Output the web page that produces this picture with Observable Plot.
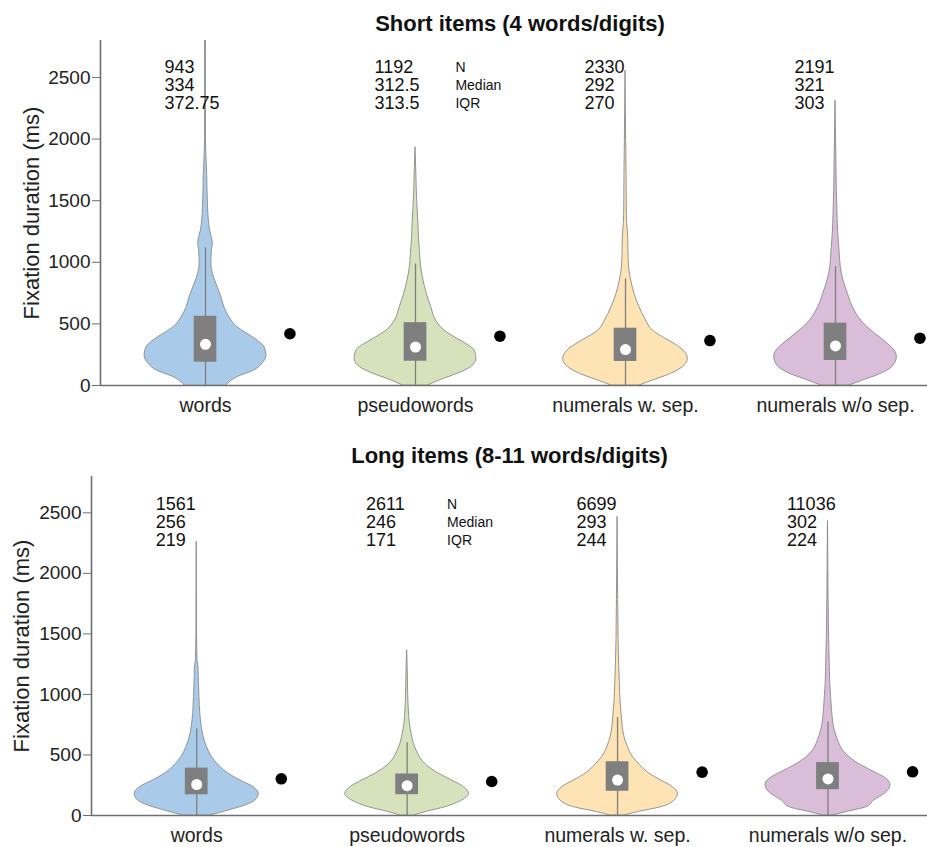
<!DOCTYPE html>
<html><head><meta charset="utf-8">
<script src="https://cdn.jsdelivr.net/npm/d3@7"></script>
<script src="https://cdn.jsdelivr.net/npm/@observablehq/plot@0.6"></script>
<style>
body{margin:0;background:#fff;}
#chart svg{display:block;}
</style></head><body><div id="chart"></div>
<script>
const categories = ["words", "pseudowords", "numerals w. sep.", "numerals w/o sep."];
const colors = ["#a9cbe9", "#d6e2bc", "#fee3b4", "#d9bdd9"];
const yTicks = [0, 500, 1000, 1500, 2000, 2500];

// Short items
const shortTitle = "Short items (4 words/digits)";
const shortN = ["943", "1192", "2330", "2191"];
const shortMedianTxt = ["334", "312.5", "292", "321"];
const shortIQRTxt = ["372.75", "313.5", "270", "303"];
const shortMedian = [334, 312.5, 292, 321];
const shortQ1 = [189, 197, 195, 203];
const shortQ3 = [562, 510, 465, 506];
const shortWhiskerHi = [1117, 987, 865, 963];
const shortMean = [420, 400, 365, 384];
// violin half-widths [value (ms), half-width (category units)]
const shortWords = [[0,0.099],[68,0.152],[122,0.233],[176,0.271],[243,0.29],[311,0.281],[365,0.248],[419,0.2],[473,0.152],[554,0.114],[635,0.09],[716,0.076],[824,0.052],[906,0.035],[987,0.028],[1095,0.03],[1149,0.035],[1203,0.03],[1257,0.022],[1338,0.016],[1446,0.012],[1717,0.008],[1879,0.004],[2000,0.002],[2800,0.002]];
const shortPseudo = [[0,0.06],[40,0.114],[95,0.2],[149,0.265],[216,0.29],[284,0.281],[338,0.241],[392,0.186],[446,0.138],[527,0.098],[635,0.075],[743,0.054],[852,0.038],[960,0.027],[1068,0.022],[1176,0.017],[1311,0.014],[1446,0.0095],[1582,0.006],[1717,0.004],[1933,0]];
const shortNumSep = [[0,0.067],[40,0.13],[95,0.217],[149,0.273],[216,0.297],[284,0.276],[338,0.233],[392,0.178],[446,0.13],[527,0.098],[635,0.067],[743,0.043],[852,0.027],[960,0.017],[1095,0.014],[1203,0.013],[1311,0.008],[1446,0.006],[1717,0.005],[1987,0.003],[2555,0]];
const shortNumNoSep = [[0,0.067],[40,0.13],[95,0.217],[149,0.27],[230,0.292],[284,0.281],[338,0.249],[392,0.21],[446,0.17],[527,0.122],[635,0.083],[743,0.059],[852,0.038],[960,0.025],[1095,0.019],[1230,0.013],[1392,0.0095],[1582,0.006],[1852,0.004],[2311,0]];

// Long items
const longTitle = "Long items (8-11 words/digits)";
const longN = ["1561", "2611", "6699", "11036"];
const longMedianTxt = ["256", "246", "293", "302"];
const longIQRTxt = ["219", "171", "244", "224"];
const longMedian = [256, 246, 293, 302];
const longQ1 = [171, 172, 200, 213];
const longQ3 = [391, 343, 444, 437];
const longWhiskerHi = [717, 600, 808, 772];
const longMean = [303, 281, 358, 361];
const longWords = [[0,0.065],[41,0.152],[83,0.232],[124,0.279],[179,0.295],[234,0.27],[289,0.208],[345,0.152],[414,0.105],[483,0.073],[565,0.049],[648,0.033],[730,0.024],[841,0.017],[979,0.013],[1144,0.0095],[1210,0.009],[1282,0.004],[1502,0.0015],[2261,0]];
const longPseudo = [[0,0.034],[28,0.087],[69,0.183],[124,0.262],[179,0.294],[234,0.27],[289,0.214],[345,0.151],[400,0.103],[455,0.071],[524,0.048],[593,0.032],[675,0.021],[758,0.013],[868,0.008],[1006,0.005],[1227,0.0025],[1365,0]];
const longNumSep = [[0,0.034],[28,0.097],[69,0.208],[124,0.271],[179,0.287],[234,0.263],[289,0.208],[345,0.152],[414,0.108],[483,0.073],[565,0.049],[648,0.033],[730,0.025],[841,0.019],[951,0.014],[1089,0.011],[1227,0.008],[1448,0.005],[1778,0.003],[2467,0]];
const longNumNoSep = [[0,0.024],[28,0.087],[69,0.183],[124,0.22],[179,0.27],[248,0.297],[303,0.278],[358,0.222],[414,0.159],[469,0.111],[538,0.071],[620,0.048],[703,0.032],[813,0.022],[951,0.016],[1089,0.011],[1282,0.008],[1502,0.005],[1778,0.003],[2432,0]];

const FONT = "'Liberation Sans', Arial, Helvetica, sans-serif";
const GRAY = "#7f7f7f";

function panel(cfg) {
  const stats = categories.map((c, i) => ({
    cat: i + 1, q1: cfg.q1[i], q3: cfg.q3[i], med: cfg.median[i], mean: cfg.mean[i], hi: cfg.hi[i],
    txt: `${cfg.nTxt[i]}\n${cfg.medTxt[i]}\n${cfg.iqrTxt[i]}`
  }));
  const violins = cfg.profiles.map((prof, i) =>
    Plot.areaX(prof, {
      y: d => d[0], x1: d => i + 1 - d[1], x2: d => i + 1 + d[1],
      fill: colors[i], stroke: "#8a8a8a", strokeWidth: 0.9, curve: "monotone-y", clip: true
    })
  );
  return Plot.plot({
    width: 927, height: cfg.height,
    marginTop: cfg.marginTop, marginBottom: cfg.marginBottom, marginLeft: cfg.marginLeft, marginRight: 0,
    style: {fontFamily: FONT, background: "#fff", color: "#222", overflow: "visible"},
    x: {domain: [0.5, cfg.xMax], axis: null},
    y: {domain: [0, 2800], axis: null},
    marks: [
      ...violins,
      Plot.ruleX(stats, {x: "cat", y1: 0, y2: "hi", stroke: GRAY, strokeWidth: 1.3}),
      Plot.rect(stats, {x1: d => d.cat - 0.054, x2: d => d.cat + 0.054, y1: "q1", y2: "q3", fill: GRAY}),
      Plot.dot(stats, {x: "cat", y: "med", r: 5.5, fill: "white", stroke: null}),
      Plot.dot(stats, {x: d => d.cat + 0.402, y: "mean", r: 5.8, fill: "black", stroke: null}),
      Plot.ruleY([0], {stroke: "#6f6f6f", strokeWidth: 1.6}),
      Plot.ruleX([0.5], {stroke: "#6f6f6f", strokeWidth: 1.6}),
      Plot.axisY(yTicks, {anchor: "left", tickSize: 8, tickPadding: 2, tickFormat: d => String(d), stroke: "#6f6f6f", fill: "#222", fontSize: 19, label: null}),
      Plot.axisX([1, 2, 3, 4], {anchor: "bottom", tickSize: 0, tickPadding: 13, tickFormat: d => categories[d - 1], fill: "#222", fontSize: 19.5, label: null}),
      Plot.text(stats, {x: d => d.cat - 0.195, frameAnchor: "top", dy: cfg.statsDy, text: "txt", textAnchor: "start", lineAnchor: "top", lineHeight: 1.02, fontSize: 18, fill: "#111"}),
      Plot.text(["N\nMedian\nIQR"], {x: () => 2.19, frameAnchor: "top", dy: cfg.statsDy - 1, textAnchor: "start", lineAnchor: "top", lineHeight: 1.31, fontSize: 14, fill: "#111"}),
      Plot.text([cfg.title], {frameAnchor: "top", lineAnchor: "middle", dx: cfg.titleDx, dy: cfg.titleDy, fontWeight: "bold", fontSize: 22, fill: "#111"}),
      Plot.text(["Fixation duration (ms)"], {frameAnchor: "left", textAnchor: "middle", lineAnchor: "middle", rotate: -90, dx: cfg.labelDx, fontSize: 22, fill: "#222"})
    ]
  });
}

const chart = document.getElementById("chart");
chart.append(panel({
  title: shortTitle, height: 420, marginTop: 40, marginBottom: 35, marginLeft: 100, xMax: 4.438,
  profiles: [shortWords, shortPseudo, shortNumSep, shortNumNoSep],
  q1: shortQ1, q3: shortQ3, median: shortMedian, mean: shortMean, hi: shortWhiskerHi,
  nTxt: shortN, medTxt: shortMedianTxt, iqrTxt: shortIQRTxt,
  statsDy: 19, titleDx: 6, titleDy: -17, labelDx: -69
}));
chart.append(panel({
  title: longTitle, height: 427, marginTop: 56, marginBottom: 32, marginLeft: 91, xMax: 4.473,
  profiles: [longWords, longPseudo, longNumSep, longNumNoSep],
  q1: longQ1, q3: longQ3, median: longMedian, mean: longMean, hi: longWhiskerHi,
  nTxt: longN, medTxt: longMedianTxt, iqrTxt: longIQRTxt,
  statsDy: 20, titleDx: 0, titleDy: -21, labelDx: -70
}));
</script></body></html>
